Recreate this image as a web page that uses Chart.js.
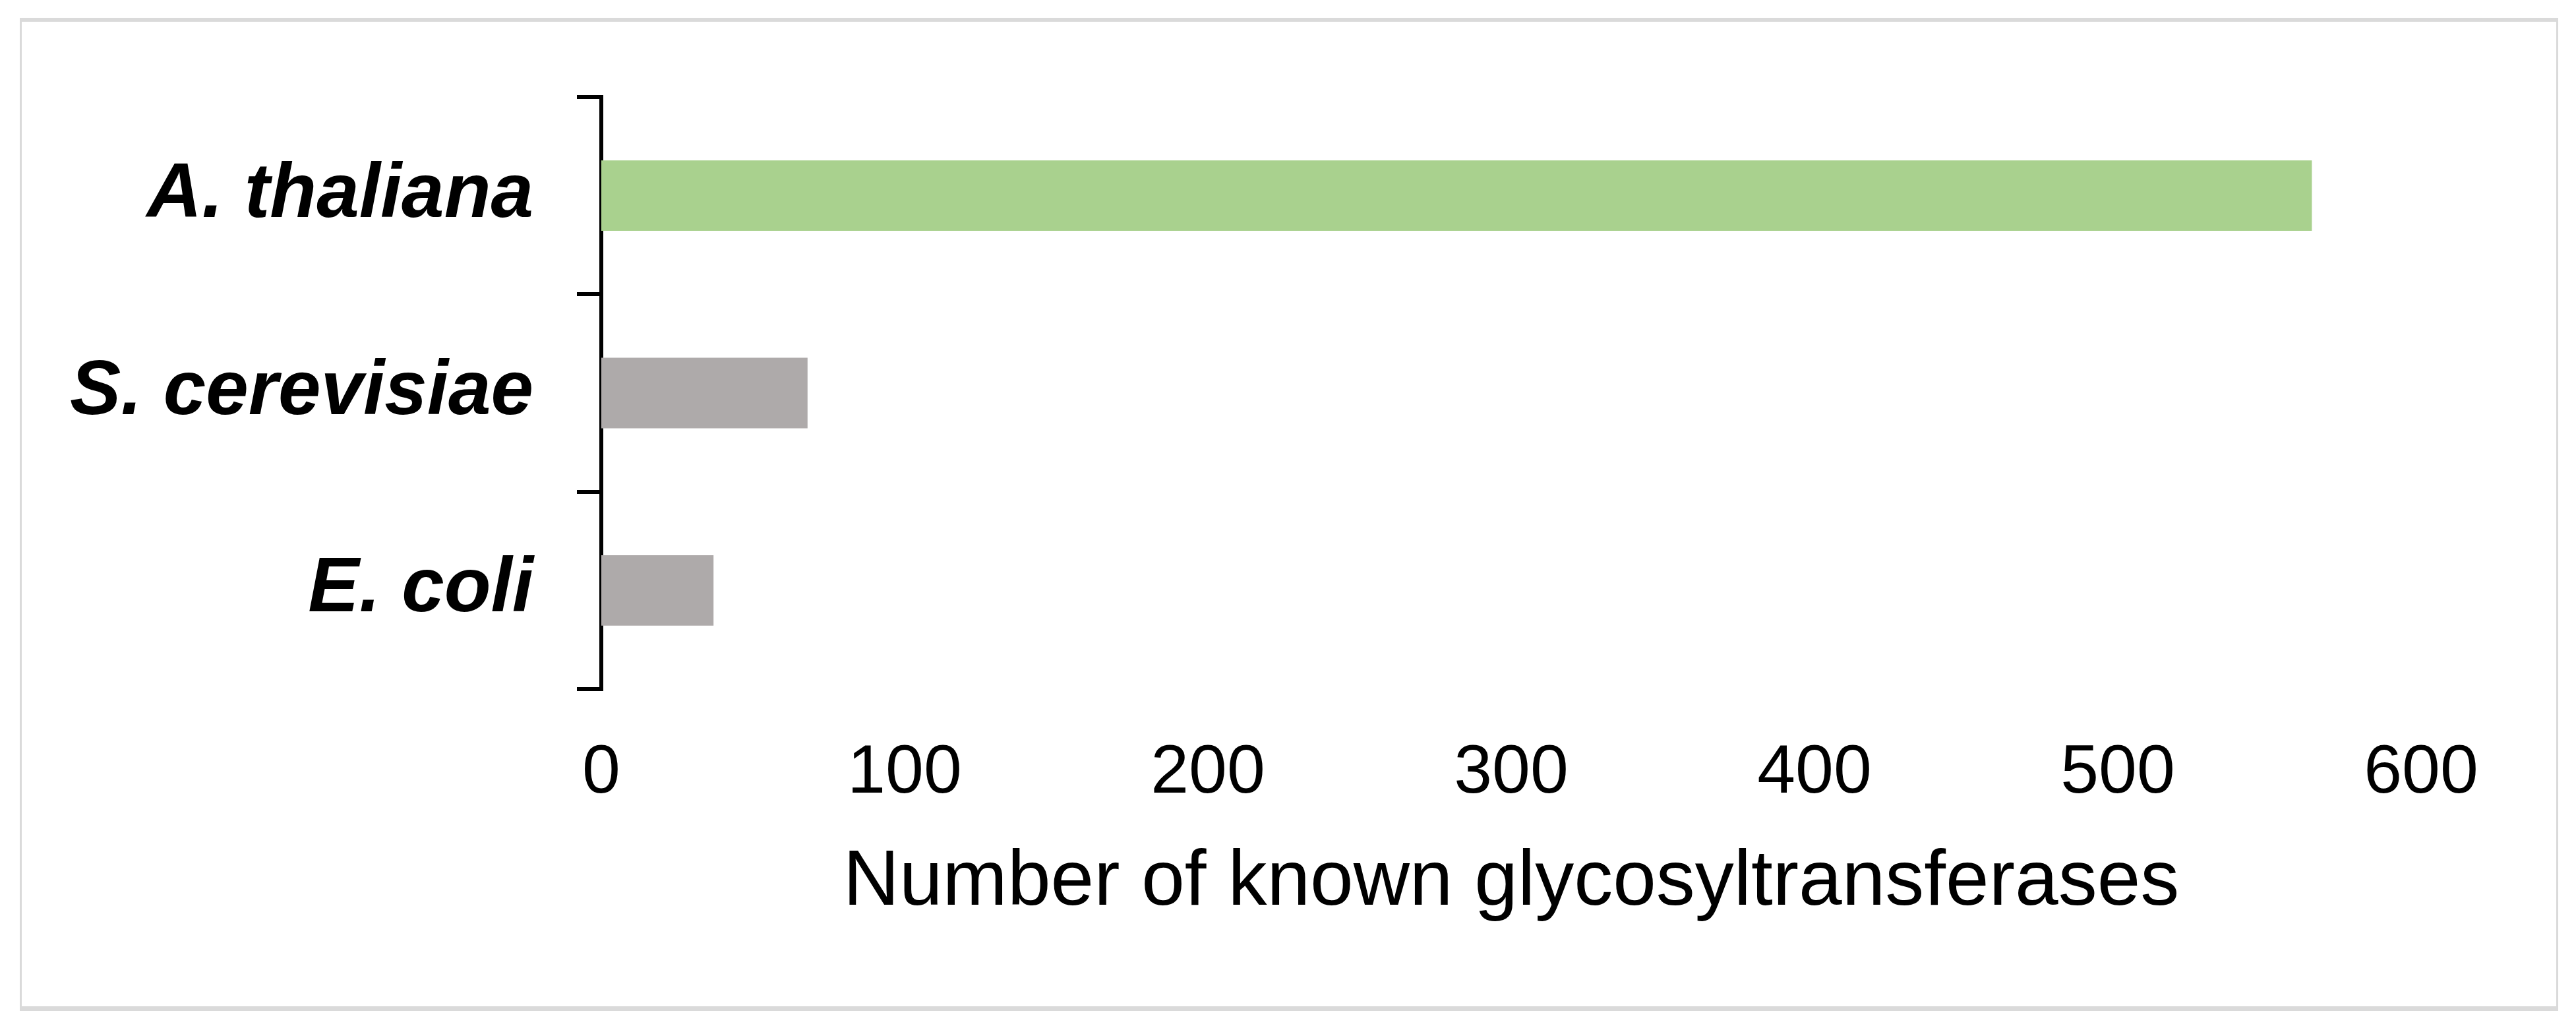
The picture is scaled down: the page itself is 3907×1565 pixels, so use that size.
<!DOCTYPE html>
<html>
<head>
<meta charset="utf-8">
<script src="https://cdn.jsdelivr.net/npm/chart.js@4/dist/chart.umd.min.js"></script>
<style>
  html, body { margin: 0; padding: 0; background: #fff; }
  #frame {
    position: absolute; left: 30px; top: 27px; width: 3850px; height: 1506px;
    box-sizing: border-box; border: 3px solid #dadada; border-top-width: 6px; border-bottom-width: 7px;
  }
  #chart { position: absolute; left: 0; top: 0; }
</style>
</head>
<body>
<div id="frame"></div>
<canvas id="chart" width="3907" height="1565"></canvas>
<script>
/* glycosyltransferase counts per organism */
const ORGANISMS = ["A. thaliana", "S. cerevisiae", "E. coli"];
const GT_COUNTS = [564, 68, 37];
const BAR_COLORS = ["#a9d18e", "#aeaaaa", "#aeaaaa"];
const X_TITLE = "Number of known glycosyltransferases";

const FONT = "'Liberation Sans', Arial, sans-serif";

new Chart(document.getElementById("chart"), {
  type: "bar",
  data: {
    labels: ORGANISMS,
    datasets: [
      {
        data: GT_COUNTS,
        backgroundColor: BAR_COLORS,
        borderWidth: 0,
        categoryPercentage: 1,
        barPercentage: 0.357,
      },
    ],
  },
  options: {
    indexAxis: "y",
    responsive: false,
    animation: false,
    devicePixelRatio: 1,
    layout: { padding: { left: 0, top: 147, right: 235, bottom: 0 } },
    plugins: { legend: { display: false }, tooltip: { enabled: false } },
    scales: {
      x: {
        min: 0,
        max: 600,
        afterFit: (s) => { s.height = 520; },
        grid: { display: false, drawTicks: false },
        border: { display: false },
        ticks: {
          stepSize: 100,
          padding: 66,
          color: "#000",
          font: { family: FONT, size: 104 },
        },
        title: {
          display: true,
          text: X_TITLE,
          color: "#000",
          font: { family: FONT, size: 118 },
          padding: { top: 0, bottom: 155 },
        },
      },
      y: {
        afterFit: (s) => { s.width = 912; },
        grid: {
          drawOnChartArea: false,
          tickLength: 37,
          lineWidth: 6,
          color: "#000",
        },
        border: { display: true, color: "#000", width: 6 },
        ticks: {
          padding: 66,
          color: "#000",
          font: { family: FONT, size: 116, weight: "bold", style: "italic" },
        },
      },
    },
  },
});
</script>
</body>
</html>
